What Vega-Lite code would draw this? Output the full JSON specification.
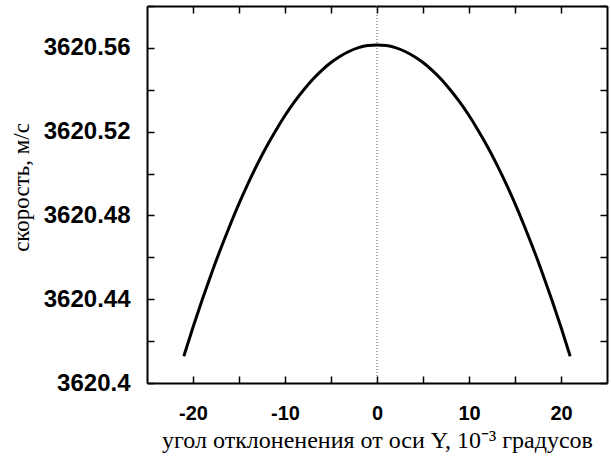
{
  "$schema": "https://vega.github.io/schema/vega-lite/v6.json",
  "width": 460,
  "height": 377,
  "autosize": {"type": "none"},
  "padding": {"left": 147, "top": 6, "right": 4, "bottom": 78},
  "background": "white",
  "config": {
    "view": {"stroke": null},
    "axis": {
      "grid": false,
      "domainColor": "black",
      "domainWidth": 2,
      "tickColor": "black",
      "tickWidth": 1.5,
      "tickSize": -7,
      "labelColor": "black",
      "titleColor": "black",
      "labelFlush": false,
      "labelOverlap": false
    }
  },
  "data": {
    "values": [
      {"angle": -21, "speed": 3620.4128},
      {"angle": -20, "speed": 3620.4266},
      {"angle": -19, "speed": 3620.4397},
      {"angle": -18, "speed": 3620.4522},
      {"angle": -17, "speed": 3620.4640},
      {"angle": -16, "speed": 3620.4751},
      {"angle": -15, "speed": 3620.4856},
      {"angle": -14, "speed": 3620.4954},
      {"angle": -13, "speed": 3620.5045},
      {"angle": -12, "speed": 3620.5129},
      {"angle": -11, "speed": 3620.5206},
      {"angle": -10, "speed": 3620.5277},
      {"angle": -9, "speed": 3620.5341},
      {"angle": -8, "speed": 3620.5398},
      {"angle": -7, "speed": 3620.5449},
      {"angle": -6, "speed": 3620.5493},
      {"angle": -5, "speed": 3620.5530},
      {"angle": -4, "speed": 3620.5560},
      {"angle": -3, "speed": 3620.5584},
      {"angle": -2, "speed": 3620.5601},
      {"angle": -1, "speed": 3620.5611},
      {"angle": 0, "speed": 3620.5614},
      {"angle": 1, "speed": 3620.5611},
      {"angle": 2, "speed": 3620.5601},
      {"angle": 3, "speed": 3620.5584},
      {"angle": 4, "speed": 3620.5560},
      {"angle": 5, "speed": 3620.5530},
      {"angle": 6, "speed": 3620.5493},
      {"angle": 7, "speed": 3620.5449},
      {"angle": 8, "speed": 3620.5398},
      {"angle": 9, "speed": 3620.5341},
      {"angle": 10, "speed": 3620.5277},
      {"angle": 11, "speed": 3620.5206},
      {"angle": 12, "speed": 3620.5129},
      {"angle": 13, "speed": 3620.5045},
      {"angle": 14, "speed": 3620.4954},
      {"angle": 15, "speed": 3620.4856},
      {"angle": 16, "speed": 3620.4751},
      {"angle": 17, "speed": 3620.4640},
      {"angle": 18, "speed": 3620.4522},
      {"angle": 19, "speed": 3620.4397},
      {"angle": 20, "speed": 3620.4266},
      {"angle": 21, "speed": 3620.4128}
    ]
  },
  "layer": [
    {
      "data": {"values": [{"angle": 0}]},
      "mark": {"type": "rule", "color": "#555555", "strokeWidth": 1, "strokeDash": [1, 2]},
      "encoding": {
        "x": {"field": "angle", "type": "quantitative", "scale": {"domain": [-25, 25], "nice": false}, "axis": null}
      }
    },
    {
      "mark": {"type": "line", "color": "black", "strokeWidth": 3, "interpolate": "monotone"},
      "encoding": {
        "x": {
          "field": "angle",
          "type": "quantitative",
          "scale": {"domain": [-25, 25], "nice": false},
          "axis": {
            "orient": "bottom",
            "values": [-20, -15, -10, -5, 0, 5, 10, 15, 20],
            "labelExpr": "datum.value % 10 === 0 ? '' + datum.value : ''",
            "labelFont": "Liberation Sans",
            "labelFontWeight": "bold",
            "labelFontSize": 20,
            "labelPadding": 27,
            "title": "угол отклоненения от оси Y, 10⁻³ градусов",
            "titleFont": "Liberation Serif",
            "titleFontWeight": "normal",
            "titleFontSize": 24,
            "titleBaseline": "alphabetic",
            "titleY": 64
          }
        },
        "y": {
          "field": "speed",
          "type": "quantitative",
          "scale": {"domain": [3620.4, 3620.58], "nice": false, "zero": false},
          "axis": {
            "orient": "left",
            "values": [3620.4, 3620.42, 3620.44, 3620.46, 3620.48, 3620.5, 3620.52, 3620.54, 3620.56, 3620.58],
            "labelExpr": "abs(round((datum.value - 3620.4) * 100)) % 4 === 0 ? format(datum.value, '.2~f') : ''",
            "labelFont": "Liberation Sans",
            "labelFontWeight": "bold",
            "labelFontSize": 24,
            "labelPadding": 24,
            "title": "скорость, м/с",
            "titleFont": "Liberation Serif",
            "titleFontWeight": "normal",
            "titleFontSize": 23,
            "titleAngle": -90,
            "titleBaseline": "alphabetic",
            "titleX": -119,
            "titleY": 181
          }
        }
      }
    },
    {
      "mark": {"type": "line", "strokeOpacity": 0},
      "encoding": {
        "x": {
          "field": "angle",
          "type": "quantitative",
          "scale": {"domain": [-25, 25], "nice": false},
          "axis": {
            "orient": "top",
            "values": [-20, -15, -10, -5, 0, 5, 10, 15, 20],
            "labels": false,
            "title": null
          }
        },
        "y": {
          "field": "speed",
          "type": "quantitative",
          "scale": {"domain": [3620.4, 3620.58], "nice": false, "zero": false},
          "axis": {
            "orient": "right",
            "values": [3620.4, 3620.42, 3620.44, 3620.46, 3620.48, 3620.5, 3620.52, 3620.54, 3620.56, 3620.58],
            "labels": false,
            "title": null
          }
        }
      }
    }
  ],
  "resolve": {"axis": {"x": "independent", "y": "independent"}}
}
